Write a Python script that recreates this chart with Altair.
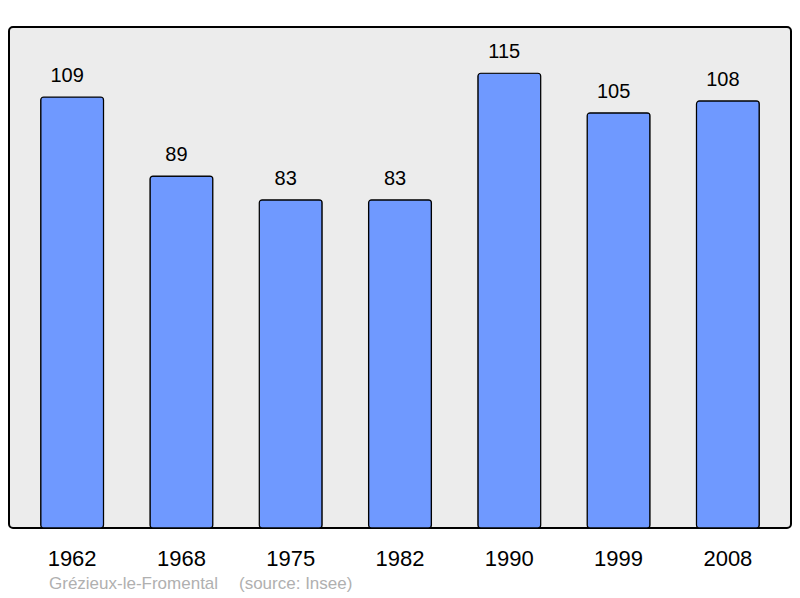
import altair as alt
import pandas as pd

years = ["1962", "1968", "1975", "1982", "1990", "1999", "2008"]
population = [109, 89, 83, 83, 115, 105, 108]
commune = "Grézieux-le-Fromental"
source = "(source: Insee)"

df = pd.DataFrame({"year": years, "pop": population})
FONT = "Liberation Sans"

x = alt.X("year:N", sort=years,
          scale=alt.Scale(paddingInner=0.425, paddingOuter=0.29),
          axis=alt.Axis(title=None, labelAngle=0, labelFontSize=22, labelFont=FONT,
                        labelColor="#000000", domain=False, ticks=False, tickSize=0,
                        labelPadding=37, labelBaseline="alphabetic", grid=False))
y = alt.Y("pop:Q", scale=alt.Scale(domain=[0, 126.7], nice=False, zero=True), axis=None)

bars = alt.Chart(df).mark_bar(
    color="#6f99ff", stroke="#000000", strokeWidth=1.2, cornerRadius=3
).encode(x=x, y=y)

labels = alt.Chart(df).mark_text(
    baseline="alphabetic", dy=-15, dx=-5, fontSize=20, font=FONT, color="#000000"
).encode(x=x, y=y, text="pop:Q")

foot1 = alt.Chart(pd.DataFrame({"t": [commune]})).mark_text(
    align="left", baseline="alphabetic", fontSize=17, font=FONT, color="#b0b0b0"
).encode(x=alt.value(40), y=alt.value(562), text="t:N")

foot2 = alt.Chart(pd.DataFrame({"t": [source]})).mark_text(
    align="left", baseline="alphabetic", fontSize=17, font=FONT, color="#b0b0b0"
).encode(x=alt.value(230), y=alt.value(562), text="t:N")

chart = alt.layer(bars, labels, foot1, foot2).properties(
    width=782, height=501,
    autosize=alt.AutoSizeParams(type="none"),
    padding={"left": 1, "top": 19, "right": 1, "bottom": 64},
).configure_view(
    fill="#ececec", stroke="#000000", strokeWidth=2, cornerRadius=4
)

chart.save("out.html", embed_options={"renderer": "svg", "actions": False})
